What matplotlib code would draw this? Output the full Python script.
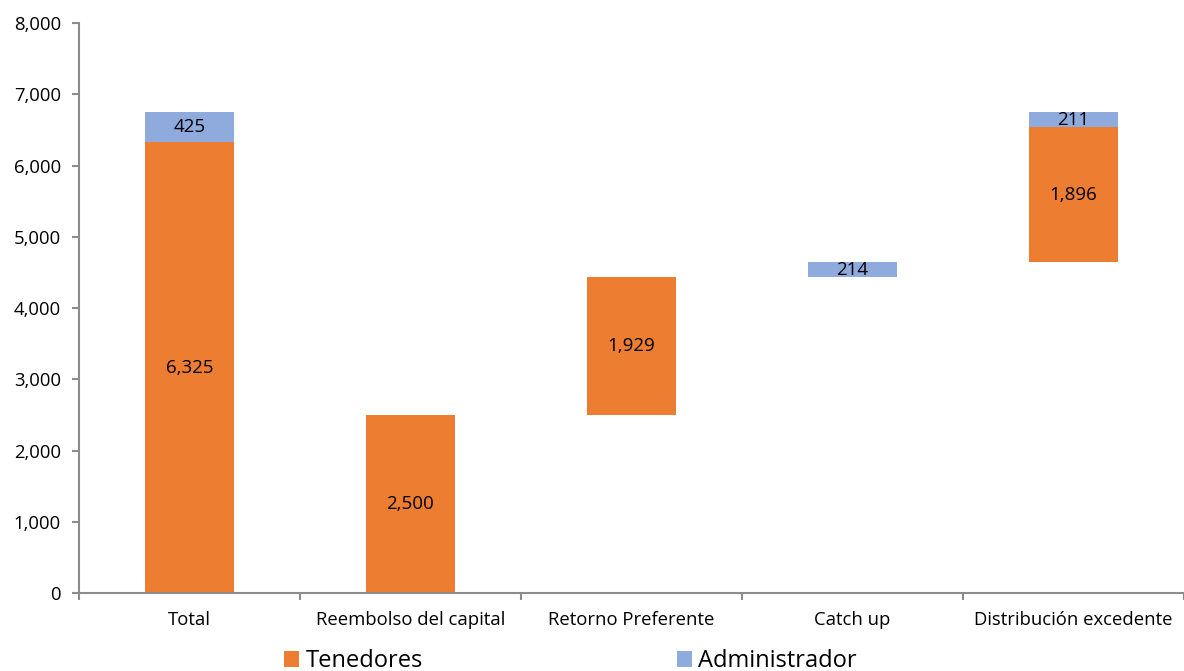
import numpy as np
import matplotlib.pyplot as plt
from matplotlib.ticker import FuncFormatter

plt.rcParams['font.family'] = ['Open Sans', 'DejaVu Sans']

categorias = ['Total', 'Reembolso del capital', 'Retorno Preferente',
              'Catch up', 'Distribución excedente']
tenedores = [6325, 2500, 1929, 0, 1896]
administrador = [425, 0, 0, 214, 211]

COLOR_TEN = '#ED7D31'
COLOR_ADM = '#8FAADC'
COLOR_EJE = '#8C8C8C'

# ── bases de la cascada ──────────────────────────────────────────────────────
base_ten = [0]
base_adm = [tenedores[0]]
acumulado = 0
for t, a in zip(tenedores[1:], administrador[1:]):
    base_ten.append(acumulado)
    acumulado += t
    base_adm.append(acumulado)
    acumulado += a

x = np.arange(len(categorias))
ancho = 0.40

fig = plt.figure(figsize=(11.84, 6.71), dpi=100)
ax = fig.add_axes([0.0667, 0.1162, 0.9333, 0.8495])

b1 = ax.bar(x, tenedores, ancho, bottom=base_ten, color=COLOR_TEN, label='Tenedores')
b2 = ax.bar(x, administrador, ancho, bottom=base_adm, color=COLOR_ADM, label='Administrador')

for xi, v, b in zip(x, tenedores, base_ten):
    if v:
        ax.text(xi, b + v / 2, f'{v:,}', ha='center', va='center', fontsize=13.5)
for xi, v, b in zip(x, administrador, base_adm):
    if v:
        ax.text(xi, b + v / 2, f'{v:,}', ha='center', va='center', fontsize=13.5)

ax.set_xlim(-0.5, len(categorias) - 0.5)
ax.set_ylim(0, 8000)
ax.set_yticks(np.arange(0, 8001, 1000))
ax.yaxis.set_major_formatter(FuncFormatter(lambda v, _: f'{int(v):,}'))

# marcas del eje x entre categorías
ax.set_xticks(np.arange(-0.5, len(categorias), 1.0))
ax.set_xticklabels([])
ax.set_xticks(x, minor=True)
ax.set_xticklabels(categorias, minor=True, fontsize=13.3)
ax.tick_params(axis='x', which='minor', length=0, pad=13)
ax.tick_params(axis='x', which='major', length=5, color=COLOR_EJE, width=1.5)
ax.tick_params(axis='y', length=5, color=COLOR_EJE, width=1.5, labelsize=13.3, pad=8)

for s in ['top', 'right']:
    ax.spines[s].set_visible(False)
for s in ['left', 'bottom']:
    ax.spines[s].set_color(COLOR_EJE)
    ax.spines[s].set_linewidth(1.5)

fig.legend(handles=[b1, b2], loc='lower left', bbox_to_anchor=(0.222, -0.035),
           ncol=2, frameon=False, fontsize=17, handlelength=0.65, handleheight=0.65,
           handletextpad=0.25, columnspacing=10.75)

fig.savefig('out.png', dpi=100)
